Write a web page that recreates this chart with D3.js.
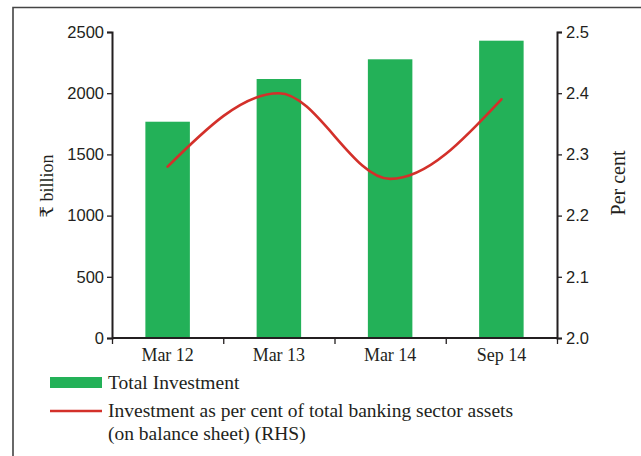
<!DOCTYPE html>
<html>
<head>
<meta charset="utf-8">
<script src="https://cdn.jsdelivr.net/npm/d3@7"></script>
<style>
  html, body { margin: 0; padding: 0; background: #fff; }
  svg { display: block; }
  .serif { font-family: "Liberation Serif", "DejaVu Serif", serif; fill: #231f20; }
  .tick text { font-family: "Liberation Sans", "DejaVu Sans", sans-serif; fill: #231f20; }
</style>
</head>
<body>
<svg id="chart" width="641" height="456"></svg>
<script>
// Bank investments: amount (left axis) and share of banking sector assets (right axis)
const periods = ["Mar 12", "Mar 13", "Mar 14", "Sep 14"];
const totalInvestment = [1767, 2116, 2277, 2429];     // ₹ billion
const shareOfAssets = [2.28, 2.40, 2.26, 2.39];       // per cent
const leftTicks = [0, 500, 1000, 1500, 2000, 2500];
const rightTicks = [2.0, 2.1, 2.2, 2.3, 2.4, 2.5];
const legendLabels = ["Total Investment",
  ["Investment as per cent of total banking sector assets", "(on balance sheet) (RHS)"]];

const green = "#23b158";
const red = "#d3302a";
const ink = "#231f20";

const svg = d3.select("#chart");

// outer frame: left and top rules
svg.append("path")
  .attr("d", "M13,456 V7.5 H641")
  .attr("fill", "none")
  .attr("stroke", "#444")
  .attr("stroke-width", 1.6);

const plot = { left: 112, right: 557, top: 32, bottom: 338 };

const x = d3.scaleBand()
  .domain(periods)
  .range([plot.left, plot.right])
  .paddingInner(0.6)
  .paddingOuter(0.3);

const yLeft = d3.scaleLinear().domain([0, 2500]).range([plot.bottom, plot.top]);
const yRight = d3.scaleLinear().domain([2.0, 2.5]).range([plot.bottom, plot.top]);

// bars
svg.append("g")
  .selectAll("rect")
  .data(periods)
  .join("rect")
  .attr("x", d => x(d))
  .attr("width", x.bandwidth())
  .attr("y", (d, i) => yLeft(totalInvestment[i]))
  .attr("height", (d, i) => yLeft(0) - yLeft(totalInvestment[i]))
  .attr("fill", green);

// line on the right-hand scale
const line = d3.line()
  .x((d, i) => x(periods[i]) + x.bandwidth() / 2)
  .y(d => yRight(d))
  .curve(d3.curveMonotoneX);

svg.append("path")
  .datum(shareOfAssets)
  .attr("d", line)
  .attr("fill", "none")
  .attr("stroke", red)
  .attr("stroke-width", 2.6)
  .attr("stroke-linecap", "round");

// left axis
const gl = svg.append("g")
  .attr("transform", `translate(${plot.left},0)`)
  .call(d3.axisLeft(yLeft).tickValues(leftTicks).tickSize(5).tickPadding(3).tickFormat(d3.format("d")));

// right axis
const gr = svg.append("g")
  .attr("transform", `translate(${plot.right},0)`)
  .call(d3.axisRight(yRight).tickValues(rightTicks).tickSize(5).tickPadding(4).tickFormat(d3.format(".1f")));

// bottom axis with ticks at band boundaries
const xEdges = d3.scaleLinear().domain([0, periods.length]).range([plot.left, plot.right]);
const gb = svg.append("g")
  .attr("transform", `translate(0,${plot.bottom})`)
  .call(d3.axisBottom(xEdges).tickValues(d3.range(periods.length + 1)).tickSize(6).tickFormat(""));

[gl, gr, gb].forEach(g => {
  g.select(".domain").attr("stroke", ink).attr("stroke-width", 2);
  g.selectAll(".tick line").attr("stroke", ink).attr("stroke-width", 1.3);
  g.selectAll(".tick text").style("font-size", "16.5px").attr("fill", ink);
});
gb.select(".domain").attr("d", `M${plot.left},0H${plot.right}`);

// category labels
svg.append("g")
  .selectAll("text")
  .data(periods)
  .join("text")
  .attr("class", "serif")
  .attr("x", d => x(d) + x.bandwidth() / 2)
  .attr("y", plot.bottom + 23)
  .attr("text-anchor", "middle")
  .style("font-size", "18px")
  .text(d => d);

// axis titles
svg.append("text")
  .attr("class", "serif")
  .attr("transform", `translate(53,186) rotate(-90)`)
  .attr("text-anchor", "middle")
  .style("font-size", "18px")
  .text("₹ billion");

svg.append("text")
  .attr("class", "serif")
  .attr("transform", `translate(625,183) rotate(-90)`)
  .attr("text-anchor", "middle")
  .style("font-size", "20px")
  .text("Per cent");

// legend
const legend = svg.append("g");
legend.append("rect")
  .attr("x", 50).attr("y", 377).attr("width", 52).attr("height", 11)
  .attr("fill", green);
legend.append("text")
  .attr("class", "serif")
  .attr("x", 108).attr("y", 389)
  .style("font-size", "19.5px")
  .text(legendLabels[0]);

legend.append("line")
  .attr("x1", 50).attr("x2", 102).attr("y1", 411).attr("y2", 411)
  .attr("stroke", red).attr("stroke-width", 2.6);
legend.append("text")
  .attr("class", "serif")
  .attr("x", 108).attr("y", 417)
  .style("font-size", "19.5px")
  .selectAll("tspan")
  .data(legendLabels[1])
  .join("tspan")
  .attr("x", 108)
  .attr("dy", (d, i) => i === 0 ? 0 : 23)
  .text(d => d);
</script>
</body>
</html>
